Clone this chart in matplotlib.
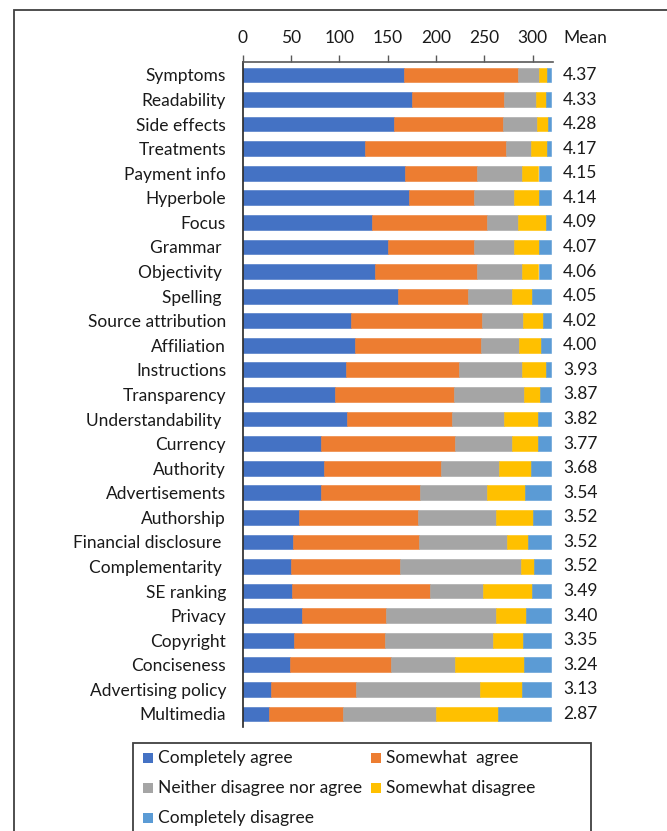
import matplotlib
matplotlib.use("Agg")
from matplotlib import pyplot as plt
from matplotlib.patches import Rectangle
from matplotlib.transforms import blended_transform_factory
import numpy as np

plt.rcParams['font.family'] = ['Lato', 'DejaVu Sans']

categories = ["Symptoms", "Readability", "Side effects", "Treatments", "Payment info",
              "Hyperbole", "Focus", "Grammar ", "Objectivity ", "Spelling ",
              "Source attribution", "Affiliation", "Instructions", "Transparency",
              "Understandability ", "Currency", "Authority", "Advertisements",
              "Authorship", "Financial disclosure ", "Complementarity ", "SE ranking",
              "Privacy", "Copyright", "Conciseness", "Advertising policy", "Multimedia"]

completely_agree = [167, 175, 157, 127, 168, 172, 134, 150, 137, 161, 112, 116, 107, 95,
                    108, 81, 84, 81, 58, 52, 50, 51, 61, 53, 49, 29, 27]
somewhat_agree = [118, 95, 112, 145, 74, 67, 119, 89, 105, 72, 136, 130, 117, 124,
                  108, 139, 121, 102, 123, 130, 113, 143, 87, 94, 104, 88, 77]
neither = [22, 33, 35, 26, 47, 42, 32, 42, 47, 46, 42, 40, 65, 72,
           54, 59, 60, 70, 81, 91, 125, 55, 114, 112, 67, 128, 96]
somewhat_disagree = [8, 11, 12, 17, 17, 26, 29, 26, 17, 20, 21, 23, 25, 17,
                     35, 26, 33, 39, 38, 22, 13, 50, 31, 31, 71, 44, 64]
completely_disagree = [4, 5, 3, 4, 13, 12, 5, 12, 13, 20, 8, 10, 5, 11,
                       14, 14, 21, 27, 19, 24, 18, 20, 26, 29, 28, 30, 55]

means = ["4.37", "4.33", "4.28", "4.17", "4.15", "4.14", "4.09", "4.07", "4.06", "4.05",
         "4.02", "4.00", "3.93", "3.87", "3.82", "3.77", "3.68", "3.54", "3.52", "3.52",
         "3.52", "3.49", "3.40", "3.35", "3.24", "3.13", "2.87"]

series = [
    ("Completely agree", completely_agree, "#4472C4"),
    ("Somewhat  agree", somewhat_agree, "#ED7D31"),
    ("Neither disagree nor agree", neither, "#A5A5A5"),
    ("Somewhat disagree", somewhat_disagree, "#FFC000"),
    ("Completely disagree", completely_disagree, "#5B9BD5"),
]

FS = 12.5
W, H = 667, 831
fig = plt.figure(figsize=(W / 100, H / 100), dpi=100)
ax = fig.add_axes([242.7 / W, 1 - 726.7 / H, 310.3 / W, 665 / H])

y = np.arange(len(categories))
left = np.zeros(len(categories))
for name, vals, color in series:
    ax.barh(y, vals, left=left, height=0.6, color=color, edgecolor=color, linewidth=0.4)
    left += np.array(vals)

ax.set_xlim(0, 321)
ax.set_ylim(len(categories) - 0.48, -0.54)
ax.set_yticks(y)
ax.set_yticklabels(categories, fontsize=FS, color="#1a1a1a")
ax.tick_params(axis="y", length=0, pad=12)
ax.xaxis.tick_top()
ax.set_xticks(np.arange(0, 301, 50))
ax.tick_params(axis="x", direction="out", length=5, width=1, color="#595959",
               labelsize=FS, labelcolor="#1a1a1a", pad=6)
for s in ["right", "bottom"]:
    ax.spines[s].set_visible(False)
ax.spines["top"].set_color("#595959")
ax.spines["left"].set_color("#262626")
ax.spines["top"].set_linewidth(1.2)
ax.spines["left"].set_linewidth(1.2)

# mean column
tr = blended_transform_factory(fig.transFigure, ax.transData)
for i, m in enumerate(means):
    ax.text(563 / W, i, m, transform=tr, ha="left", va="center", fontsize=FS, color="#1a1a1a")
fig.text(563 / W, 1 - 38 / H, "Mean", ha="left", va="center", fontsize=FS, color="#1a1a1a")

# outer frame
fig.patches.append(Rectangle((14 / W, -0.1), 1.2, 1 - 10 / H + 0.1, transform=fig.transFigure,
                             fill=False, edgecolor="#404040", linewidth=1.3))

# legend box
fig.patches.append(Rectangle((133 / W, -0.1), (591 - 133) / W, 1 - 743 / H + 0.1,
                             transform=fig.transFigure, fill=False, edgecolor="#404040",
                             linewidth=1.3))
legend_pos = [(143, 758), (371, 758), (143, 788), (371, 788), (143, 818)]
for (name, vals, color), (px, py) in zip(series, legend_pos):
    fig.patches.append(Rectangle((px / W, 1 - (py + 5) / H), 10 / W, 10 / H,
                                 transform=fig.transFigure, facecolor=color, edgecolor="none"))
    fig.text((px + 15) / W, 1 - py / H, name, ha="left", va="center", fontsize=FS,
             color="#1a1a1a")

fig.savefig("out.png", dpi=100)
